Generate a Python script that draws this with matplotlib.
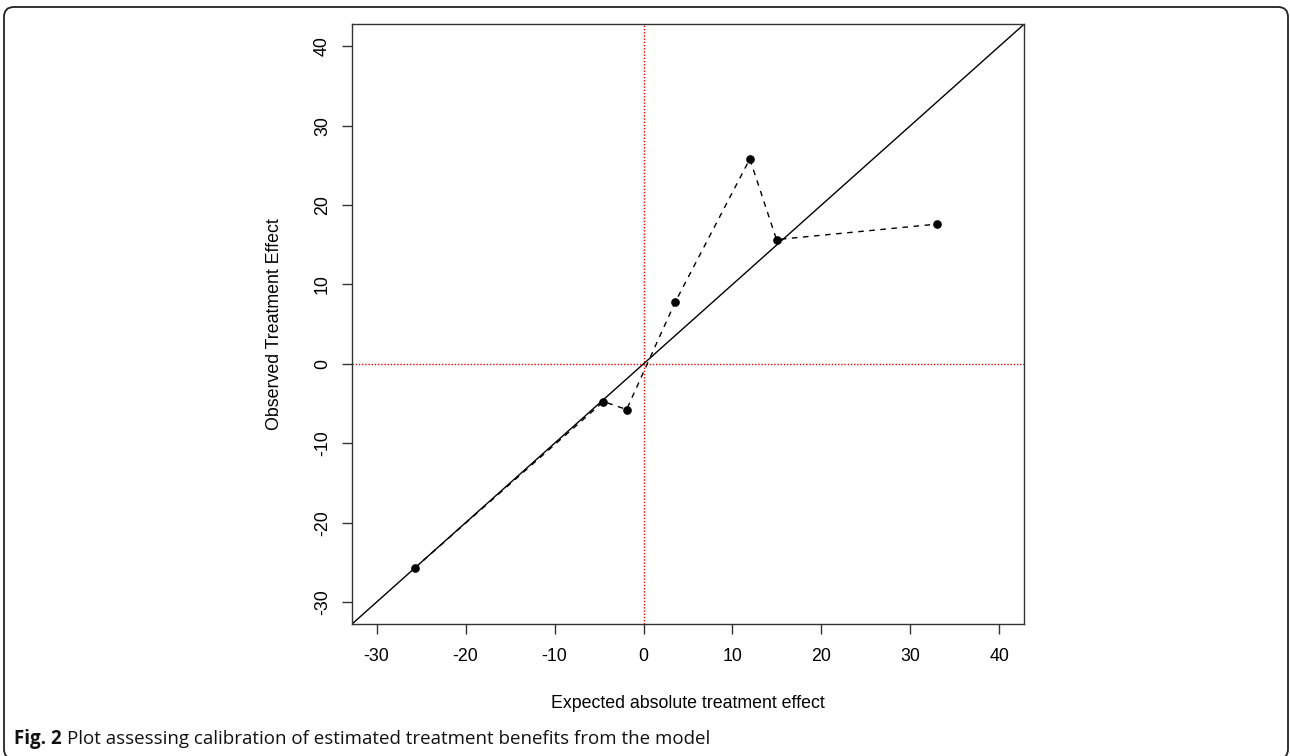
import numpy as np
import matplotlib as mpl
from matplotlib import pyplot as plt
from matplotlib.patches import FancyBboxPatch
from matplotlib.transforms import IdentityTransform

# observed vs expected treatment effect
expected = [-25.7, -4.5, -1.9, 3.55, 11.95, 14.95, 33.0]
observed = [-25.7, -4.75, -5.75, 7.75, 25.8, 15.65, 17.6]

x_ticks = [-30, -20, -10, 0, 10, 20, 30, 40]
y_ticks = [-30, -20, -10, 0, 10, 20, 30, 40]
lims = (-32.8, 42.8)

x_label = "Expected absolute treatment effect"
y_label = "Observed Treatment Effect"
caption_bold = "Fig. 2"
caption = "Plot assessing calibration of estimated treatment benefits from the model"


def main():
    plt.rcParams["font.family"] = ["Liberation Sans", "DejaVu Sans"]
    plt.rcParams["axes.unicode_minus"] = False
    fig = plt.figure(figsize=(12.9, 7.56), dpi=100)
    ax = fig.add_axes([351.7 / 1290, 131.7 / 756, 672.6 / 1290, 600.3 / 756])

    # reference lines
    ax.axline((0, 0), slope=1, color="black", lw=1.0, zorder=2)
    ax.axhline(0, color="red", lw=1.0, ls=(0, (1, 1.3)), zorder=1)
    ax.axvline(0, color="red", lw=1.0, ls=(0, (1, 1.3)), zorder=1)

    ax.plot(expected, observed, color="black", lw=1.0, ls=(0, (4, 4)),
            marker="o", ms=5.2, mfc="black", mec="black", zorder=3)

    ax.set_xlim(*lims)
    ax.set_ylim(*lims)
    ax.set_xticks(x_ticks)
    ax.set_yticks(y_ticks)
    ax.tick_params(direction="out", length=7, width=1.0, color="#333333",
                   labelsize=12.8, pad=10)
    ax.tick_params(axis="y", pad=8)
    for lab in ax.get_yticklabels():
        lab.set_rotation(90)
        lab.set_va("center")
    for sp in ax.spines.values():
        sp.set_linewidth(1.0)
        sp.set_color("#333333")

    ax.set_xlabel(x_label, fontsize=12.8, va="center")
    ax.xaxis.set_label_coords(0.5, -79 / 600.3)
    ax.set_ylabel(y_label, fontsize=12.8, va="center")
    ax.yaxis.set_label_coords(-77 / 672.6, 0.5)

    # journal frame around the figure
    frame = FancyBboxPatch((4, -3), 1284, 752,
                           boxstyle="round,pad=0,rounding_size=10",
                           transform=IdentityTransform(), fill=False,
                           ec="#222222", lw=1.3)
    fig.patches.append(frame)

    t1 = fig.text(14 / 1290, 1 - 739 / 756, caption_bold, fontsize=13.5,
                  fontweight="bold", va="center", ha="left",
                  family=["Open Sans", "DejaVu Sans"], color="#111111")
    ax.annotate(caption, xy=(1, 0.5), xycoords=t1, xytext=(4, 0),
                textcoords="offset points", va="center", ha="left",
                fontsize=13.5, family=["Open Sans", "DejaVu Sans"],
                color="#111111", annotation_clip=False)

    fig.savefig("out.png", dpi=100)


if __name__ == "__main__":
    main()
